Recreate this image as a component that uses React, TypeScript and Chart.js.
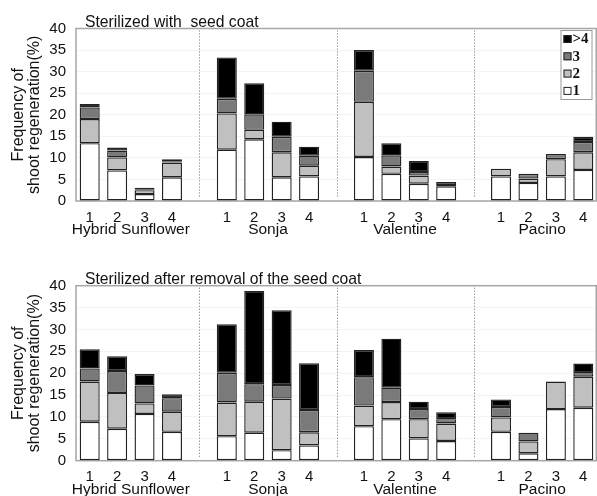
import React, { useEffect, useRef } from 'react';
import { Chart, registerables } from 'chart.js';

Chart.register(...registerables);

const groups = ['Hybrid Sunflower', 'Sonja', 'Valentine', 'Pacino'];
const barLabels = ['1', '2', '3', '4'];
const seriesLabels = ['1', '2', '3', '>4'];
const seriesColors = ['#ffffff', '#c0c0c0', '#7a7a7a', '#000000'];
const yMax = 40;
const yStep = 5;
const yTitle = ['Frequency of', 'shoot regeneration(%)'];
const topTitle = 'Sterilized with  seed coat';
const bottomTitle = 'Sterilized after removal of the seed coat';

// Sterilized with seed coat: 16 bars (4 groups x 4)
const top1 = [13.4, 7.1, 1.6, 5.5, 11.9, 14.3, 5.5, 5.7, 10.2, 6.3, 4.0, 3.4, 5.7, 4.2, 5.7, 7.2];
const top2 = [5.6, 3.0, 0.9, 3.4, 8.4, 2.2, 5.8, 2.5, 12.8, 1.7, 1.9, 0.3, 1.8, 1.0, 4.0, 4.1];
const top3 = [2.7, 1.6, 0.1, 0.3, 3.4, 3.6, 3.6, 2.3, 7.2, 2.6, 0.8, 0.7, 0, 1.1, 1.2, 2.4];
const top4 = [0.8, 0.7, 0.5, 0.5, 9.6, 7.2, 3.5, 2.1, 4.8, 2.8, 2.6, 0, 0, 0, 0, 1.2];

// Sterilized after removal of the seed coat
const bot1 = [8.9, 7.3, 10.7, 6.6, 5.6, 6.4, 2.4, 3.5, 7.9, 9.5, 5.1, 4.5, 6.6, 1.7, 11.8, 12.1];
const bot2 = [9.2, 8.2, 2.4, 4.6, 7.7, 7.1, 11.8, 3.0, 4.7, 3.9, 4.4, 4.0, 3.3, 2.7, 6.3, 7.1];
const bot3 = [3.0, 5.0, 4.1, 3.1, 6.8, 4.0, 3.1, 5.1, 6.5, 3.3, 2.3, 1.0, 2.4, 2.0, 0, 0.8];
const bot4 = [4.4, 3.4, 2.6, 0.9, 11.1, 21.3, 17.1, 10.7, 6.2, 11.2, 1.7, 1.6, 1.7, 0, 0, 2.2];

const SANS = '"Liberation Sans", Arial, Helvetica, sans-serif';
const SERIF = '"Liberation Serif", "Times New Roman", serif';

// Build category labels with gap slots between groups
const categories: string[] = [];
const gapIndices: number[] = [];
const barIndexMap: number[] = [];
groups.forEach((g, gi) => {
  barLabels.forEach((b) => {
    barIndexMap.push(categories.length);
    categories.push(b);
  });
  if (gi < groups.length - 1) {
    gapIndices.push(categories.length);
    categories.push('');
  }
});

function spread(vals: number[]): (number | null)[] {
  const out: (number | null)[] = categories.map(() => null);
  vals.forEach((v, i) => {
    out[barIndexMap[i]] = v;
  });
  return out;
}

type PanelProps = {
  title: string;
  series: number[][];
  height: number;
  areaTop: number;
  areaBottom: number;
  tickPad: number;
  legend: boolean;
};

function Panel({ title, series, height, areaTop, areaBottom, tickPad, legend }: PanelProps) {
  const ref = useRef<HTMLCanvasElement | null>(null);

  useEffect(() => {
    if (!ref.current) return;
    const decor = {
      id: 'decor',
      beforeDatasetsDraw(chart: any) {
        const { ctx, chartArea } = chart;
        const x = chart.scales.x;
        ctx.save();
        ctx.strokeStyle = '#6e6e6e';
        ctx.lineWidth = 1;
        ctx.setLineDash([1, 2]);
        gapIndices.forEach((gi) => {
          const px = Math.round(x.getPixelForValue(gi)) + 0.5;
          ctx.beginPath();
          ctx.moveTo(px, chartArea.top + 2);
          ctx.lineTo(px, chartArea.bottom - 3);
          ctx.stroke();
        });
        ctx.setLineDash([]);
        ctx.strokeStyle = '#a6a6a6';
        ctx.lineWidth = 1.5;
        ctx.strokeRect(chartArea.left, chartArea.top, chartArea.right - chartArea.left - 0.75, chartArea.bottom - chartArea.top);
        ctx.restore();
      },
      afterDraw(chart: any) {
        const { ctx, chartArea } = chart;
        const x = chart.scales.x;
        ctx.save();
        ctx.fillStyle = '#111';
        ctx.font = `15.7px ${SANS}`;
        ctx.textAlign = 'left';
        ctx.textBaseline = 'alphabetic';
        ctx.fillText(title, chartArea.left + 9, chartArea.top - 2);
        ctx.font = `15.5px ${SANS}`;
        ctx.textAlign = 'center';
        ctx.textBaseline = 'middle';
        groups.forEach((g, gi) => {
          const a = x.getPixelForValue(barIndexMap[gi * 4 + 1]);
          const b = x.getPixelForValue(barIndexMap[gi * 4 + 2]);
          ctx.fillText(g, (a + b) / 2, chartArea.bottom + 29);
        });
        if (legend) {
          const bw = 31;
          const bh = 69;
          const bx = chartArea.right - 5.5 - bw;
          const by = chartArea.top + 1.5;
          ctx.fillStyle = '#fff';
          ctx.fillRect(bx, by, bw, bh);
          ctx.strokeStyle = '#9a9a9a';
          ctx.lineWidth = 1;
          ctx.strokeRect(bx + 0.5, by + 0.5, bw, bh);
          const ds = chart.data.datasets;
          ctx.font = `bold 15px ${SERIF}`;
          ctx.textAlign = 'left';
          ctx.textBaseline = 'middle';
          for (let k = 0; k < ds.length; k++) {
            const d = ds[ds.length - 1 - k];
            const cy = by + 9 + k * 17.3;
            ctx.fillStyle = d.backgroundColor;
            ctx.fillRect(bx + 3, cy - 4, 8, 8);
            ctx.strokeStyle = '#222';
            ctx.lineWidth = 1;
            ctx.strokeRect(bx + 3.5, cy - 3.5, 7, 7);
            ctx.fillStyle = '#111';
            ctx.fillText(d.label, bx + 12, cy + 0.5);
          }
        }
        ctx.restore();
      },
    };

    const chart = new Chart(ref.current, {
      type: 'bar',
      data: {
        labels: categories,
        datasets: series.map((vals, i) => ({
          label: seriesLabels[i],
          data: spread(vals),
          backgroundColor: seriesColors[i],
          borderColor: '#222222',
          borderWidth: 1.4,
          borderSkipped: false,
          barPercentage: 0.73,
          categoryPercentage: 1,
        })),
      },
      options: {
        responsive: false,
        animation: false,
        events: [],
        layout: { padding: { top: areaTop, left: 0, right: 0, bottom: 0 } },
        plugins: { legend: { display: false }, tooltip: { enabled: false }, title: { display: false } },
        scales: {
          x: {
            stacked: true,
            offset: true,
            grid: { display: false, drawTicks: false },
            border: { display: false },
            ticks: {
              autoSkip: false,
              maxRotation: 0,
              padding: tickPad,
              color: '#111',
              font: { family: SANS, size: 15 },
            },
            afterFit: (s: any) => {
              s.height = height - areaBottom;
            },
          },
          y: {
            stacked: true,
            min: 0,
            max: yMax,
            grid: { color: 'rgba(0,0,0,0.045)', drawTicks: false },
            border: { display: false },
            ticks: {
              stepSize: yStep,
              padding: 10,
              color: '#111',
              font: { family: SANS, size: 15 },
            },
            title: {
              display: true,
              text: yTitle,
              color: '#111',
              font: { family: SANS, size: 16, lineHeight: 1 },
              padding: { top: 11, bottom: 0 },
            },
            afterFit: (s: any) => {
              s.width = 76;
            },
          },
        },
      },
      plugins: [decor],
    } as any);
    return () => chart.destroy();
  }, []);

  return <canvas ref={ref} width={597} height={height} style={{ display: 'block', width: 597, height }} />;
}

export default function App() {
  return (
    <div style={{ position: 'fixed', left: 0, top: 0, width: 597, height: 496, background: '#fff' }}>
      <Panel title={topTitle} series={[top1, top2, top3, top4]} height={240} areaTop={28.5} areaBottom={201} tickPad={8} legend={true} />
      <Panel title={bottomTitle} series={[bot1, bot2, bot3, bot4]} height={256} areaTop={45.7} areaBottom={220.7} tickPad={7} legend={false} />
    </div>
  );
}
